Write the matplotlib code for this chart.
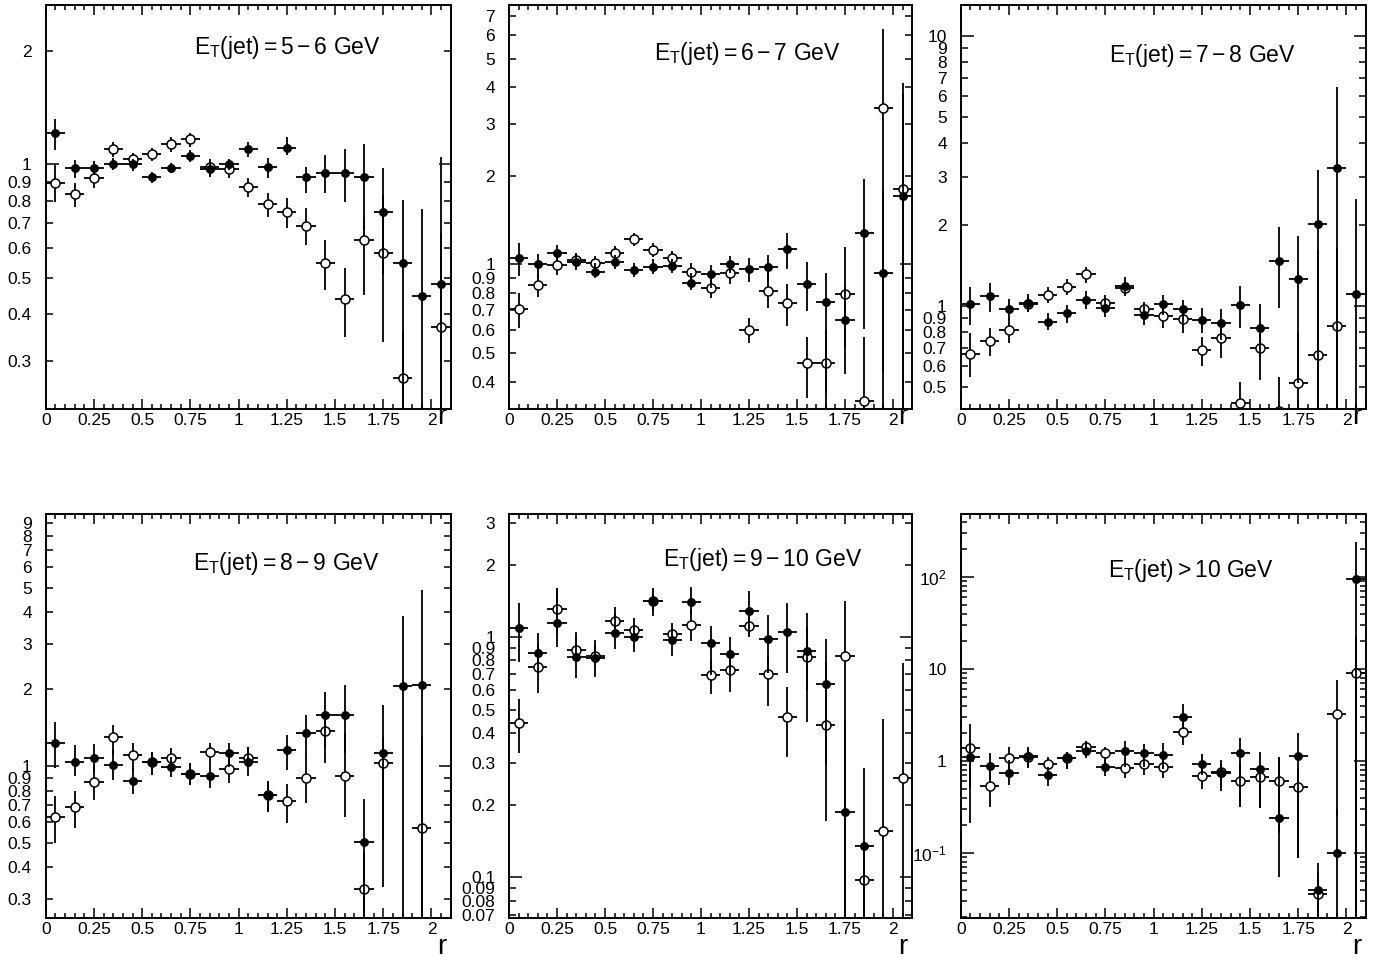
import numpy as np
import matplotlib
matplotlib.use('Agg')
import matplotlib.pyplot as plt
from matplotlib.ticker import FixedLocator, FuncFormatter, MultipleLocator, NullFormatter

plt.rcParams['font.family'] = ['Liberation Sans', 'DejaVu Sans']
plt.rcParams['mathtext.fontset'] = 'custom'
plt.rcParams['mathtext.rm'] = 'Liberation Sans'
plt.rcParams['mathtext.it'] = 'Liberation Sans:italic'

nan = np.nan

# ---- bin centres in r
r = [0.05, 0.15, 0.25, 0.35, 0.45, 0.55, 0.65, 0.75, 0.85, 0.95, 1.05,
     1.15, 1.25, 1.35, 1.45, 1.55, 1.65, 1.75, 1.85, 1.95, 2.05]
r_halfwidth = 0.05

titles = ['5-6', '6-7', '7-8', '8-9', '9-10', '>10']

# ---- Et 5-6 GeV  (f = filled points, o = open points; lo/hi = error bar ends)
f1_val = [1.21, 0.98, 0.98, 1.0, 1.0, 0.927, 0.976, 1.054, 0.97, 1.0, 1.096, 0.986, 1.107, 0.927, 0.95, 0.95, 0.927, 0.746, 0.546, 0.448, 0.48]
f1_hi = [1.32, 1.027, 1.02, 1.037, 1.033, 0.956, 1.006, 1.091, 1.006, 1.031, 1.148, 1.037, 1.184, 0.986, 1.059, 1.10, 1.132, 0.976, 0.804, 0.759, 1.048]
f1_lo = [1.091, 0.918, 0.937, 0.966, 0.962, 0.89, 0.946, 1.012, 0.927, 0.966, 1.048, 0.918, 1.059, 0.837, 0.837, 0.796, 0.669, 0.513, 0.01, 0.01, 0.01]
o1_val = [0.894, 0.832, 0.918, 1.096, 1.033, 1.065, 1.132, 1.165, 0.986, 0.97, 0.869, 0.784, 0.746, 0.687, 0.546, 0.439, 0.629, 0.583, 0.271, nan, 0.37]
o1_hi = [0.996, 0.894, 0.966, 1.148, 1.069, 1.107, 1.184, 1.213, 1.031, 1.016, 0.918, 0.841, 0.812, 0.764, 0.629, 0.529, 0.726, 0.829, 0.36, nan, 0.656]
o1_lo = [0.796, 0.772, 0.867, 1.048, 0.996, 1.023, 1.08, 1.109, 0.931, 0.918, 0.817, 0.726, 0.679, 0.61, 0.464, 0.347, 0.45, 0.338, 0.01, nan, 0.01]

# ---- Et 6-7 GeV
f2_val = [1.048, 1.0, 1.095, 1.016, 0.944, 1.021, 0.957, 0.982, 0.987, 0.866, 0.927, 1.0, 0.964, 0.977, 1.124, 0.855, 0.745, 0.65, 1.277, 0.936, 1.706]
f2_hi = [1.185, 1.081, 1.163, 1.09, 1.008, 1.076, 1.008, 1.04, 1.04, 0.932, 0.995, 1.067, 1.054, 1.076, 1.28, 1.016, 0.932, 0.839, 1.949, 1.778, 3.78]
f2_lo = [0.913, 0.901, 1.034, 0.957, 0.897, 0.962, 0.908, 0.927, 0.932, 0.818, 0.829, 0.937, 0.873, 0.873, 0.962, 0.696, 0.365, 0.424, 0.606, 0.01, 0.01]
o2_val = [0.705, 0.851, 0.995, 1.034, 1.013, 1.095, 1.216, 1.119, 1.048, 0.944, 0.829, 0.932, 0.598, 0.812, 0.737, 0.461, 0.461, 0.793, 0.344, 3.386, 1.798]
o2_hi = [0.801, 0.92, 1.076, 1.09, 1.067, 1.154, 1.281, 1.184, 1.113, 1.008, 0.896, 1.008, 0.659, 0.944, 0.857, 0.568, 0.598, 1.142, 0.565, 6.3, 4.14]
o2_lo = [0.609, 0.777, 0.92, 0.982, 0.962, 1.04, 1.154, 1.056, 0.982, 0.885, 0.767, 0.857, 0.539, 0.709, 0.617, 0.353, 0.01, 0.525, 0.01, 0.432, 0.01]

# ---- Et 7-8 GeV
f3_val = [1.014, 1.092, 0.972, 1.029, 0.875, 0.939, 1.052, 0.986, 1.189, 0.926, 1.014, 0.972, 0.888, 0.863, 1.009, 0.831, 1.471, 1.259, 2.005, 3.25, 1.108]
f3_hi = [1.179, 1.213, 1.058, 1.107, 0.939, 1.009, 1.139, 1.058, 1.277, 1.0, 1.098, 1.052, 0.98, 0.972, 1.186, 1.017, 1.965, 1.815, 3.18, 6.48, 2.5]
f3_lo = [0.851, 0.953, 0.888, 0.953, 0.815, 0.868, 0.972, 0.913, 1.114, 0.851, 0.926, 0.863, 0.792, 0.749, 0.827, 0.649, 0.98, 0.52, 0.01, 0.01, 0.01]
o3_val = [0.663, 0.742, 0.815, 1.014, 1.098, 1.179, 1.313, 1.029, 1.162, 0.972, 0.918, 0.893, 0.688, 0.759, 0.436, 0.701, 0.41, 0.52, 0.659, 0.846, nan]
o3_hi = [0.792, 0.827, 0.9, 1.077, 1.179, 1.255, 1.398, 1.098, 1.23, 1.038, 1.009, 0.972, 0.77, 0.863, 0.525, 0.863, 0.548, 0.792, 1.61, 1.635, nan]
o3_lo = [0.548, 0.653, 0.727, 0.953, 1.023, 1.098, 1.22, 0.961, 1.089, 0.913, 0.827, 0.797, 0.6, 0.641, 0.01, 0.532, 0.01, 0.01, 0.01, 0.01, nan]

# ---- Et 8-9 GeV
f4_val = [1.235, 1.04, 1.072, 1.009, 0.873, 1.034, 0.994, 0.93, 0.914, 1.121, 1.04, 0.769, 1.149, 1.344, 1.576, 1.576, 0.504, 1.122, 2.048, 2.074, nan]
f4_hi = [1.48, 1.209, 1.22, 1.156, 0.979, 1.138, 1.088, 1.024, 1.009, 1.235, 1.191, 0.873, 1.323, 1.586, 1.957, 2.067, 0.74, 1.725, 3.86, 4.91, nan]
f4_lo = [0.979, 0.914, 0.95, 0.881, 0.776, 0.922, 0.903, 0.842, 0.817, 0.994, 0.914, 0.658, 0.964, 1.094, 1.19, 1.122, 0.01, 0.512, 0.01, 0.01, nan]
o4_val = [0.629, 0.688, 0.868, 1.296, 1.104, 1.034, 1.078, 0.93, 1.131, 0.97, 1.072, 0.769, 0.725, 0.895, 1.364, 0.916, 0.328, 1.025, nan, 0.573, nan]
o4_hi = [0.765, 0.798, 1.0, 1.449, 1.227, 1.138, 1.173, 1.024, 1.235, 1.088, 1.191, 0.873, 0.847, 1.104, 1.61, 1.344, 0.454, 1.303, nan, 1.303, nan]
o4_lo = [0.497, 0.573, 0.735, 1.104, 0.964, 0.922, 0.979, 0.842, 1.009, 0.86, 0.994, 0.658, 0.599, 0.714, 1.025, 0.629, 0.01, 0.336, nan, 0.01, nan]

# ---- Et 9-10 GeV
f5_val = [1.09, 0.863, 1.151, 0.831, 0.818, 1.046, 1.006, 1.421, 0.975, 1.407, 0.95, 0.85, 1.287, 0.981, 1.049, 0.877, 0.638, 0.188, 0.135, nan, nan]
f5_hi = [1.385, 1.039, 1.599, 1.049, 0.969, 1.247, 1.108, 1.599, 1.073, 1.614, 1.115, 1.006, 1.563, 1.239, 1.394, 1.259, 0.981, 0.45, 0.285, nan, nan]
f5_lo = [0.792, 0.708, 0.906, 0.675, 0.686, 0.891, 0.866, 1.227, 0.836, 1.238, 0.697, 0.686, 1.029, 0.708, 0.708, 0.6, 0.294, 0.001, 0.001, nan, nan]
o5_val = [0.441, 0.755, 1.312, 0.886, 0.836, 1.17, 1.073, 1.421, 1.029, 1.126, 0.693, 0.731, 1.108, 0.702, 0.467, 0.83, 0.432, 0.836, 0.0977, 0.156, 0.26]
o5_hi = [0.554, 0.938, 1.599, 0.99, 0.915, 1.333, 1.2, 1.52, 1.144, 1.299, 0.805, 0.844, 1.239, 0.844, 0.619, 1.1, 0.792, 1.42, 0.135, 0.457, 0.779]
o5_lo = [0.329, 0.585, 1.039, 0.792, 0.767, 1.039, 0.975, 1.3, 0.938, 0.965, 0.579, 0.594, 1.0, 0.518, 0.317, 0.445, 0.171, 0.001, 0.001, 0.001, 0.001]

# ---- Et > 10 GeV
f6_val = [1.115, 0.89, 0.747, 1.133, 0.705, 1.069, 1.295, 0.853, 1.295, 1.211, 1.162, 3.03, 0.928, 0.747, 1.211, 0.819, 0.238, 1.133, 0.0396, 0.1008, 94.4]
f6_hi = [1.69, 1.211, 1.025, 1.408, 0.868, 1.263, 1.663, 1.115, 1.663, 1.517, 1.582, 4.16, 1.191, 1.025, 1.763, 1.263, 1.115, 1.998, 0.0772, 0.3, 242]
f6_lo = [0.526, 0.622, 0.548, 0.832, 0.539, 0.812, 1.069, 0.687, 0.868, 0.868, 0.812, 2.21, 0.705, 0.476, 0.319, 0.306, 0.0552, 0.0875, 0.001, 0.001, 0.001]
o6_val = [1.373, 0.535, 1.069, 1.096, 0.92, 1.069, 1.408, 1.211, 0.832, 0.928, 0.868, 2.084, 0.687, 0.766, 0.606, 0.676, 0.606, 0.526, 0.0356, 3.24, 8.98]
o6_hi = [2.52, 0.868, 1.408, 1.339, 1.096, 1.263, 1.663, 1.431, 1.025, 1.133, 1.096, 2.79, 0.92, 0.943, 0.943, 0.868, 1.115, 0.832, 0.06, 7.6, 22.4]
o6_lo = [0.21, 0.319, 0.734, 0.868, 0.747, 0.812, 1.162, 0.943, 0.648, 0.705, 0.648, 1.493, 0.492, 0.526, 0.319, 0.306, 0.164, 0.0875, 0.001, 0.25, 0.001]

filled = [(f1_val, f1_lo, f1_hi), (f2_val, f2_lo, f2_hi), (f3_val, f3_lo, f3_hi),
          (f4_val, f4_lo, f4_hi), (f5_val, f5_lo, f5_hi), (f6_val, f6_lo, f6_hi)]
opened = [(o1_val, o1_lo, o1_hi), (o2_val, o2_lo, o2_hi), (o3_val, o3_lo, o3_hi),
          (o4_val, o4_lo, o4_hi), (o5_val, o5_lo, o5_hi), (o6_val, o6_lo, o6_hi)]

# y ranges and labelled y ticks of each panel
ylims = [(0.224, 2.65), (0.323, 7.6), (0.416, 13.0), (0.254, 9.7), (0.068, 3.25), (0.0198, 480)]
ymajor = [[1], [1], [1, 10], [1], [0.1, 1], [0.1, 1, 10, 100]]
yminor = [[0.3, 0.4, 0.5, 0.6, 0.7, 0.8, 0.9, 2],
          [0.4, 0.5, 0.6, 0.7, 0.8, 0.9, 2, 3, 4, 5, 6, 7],
          [0.5, 0.6, 0.7, 0.8, 0.9, 2, 3, 4, 5, 6, 7, 8, 9],
          [0.3, 0.4, 0.5, 0.6, 0.7, 0.8, 0.9, 2, 3, 4, 5, 6, 7, 8, 9],
          [0.07, 0.08, 0.09, 0.2, 0.3, 0.4, 0.5, 0.6, 0.7, 0.8, 0.9, 2, 3],
          [k * 10.0 ** e for e in (-2, -1, 0, 1, 2) for k in range(2, 10)]]
title_pos = [(0.366, 0.894), (0.36, 0.881), (0.366, 0.876),
             (0.364, 0.879), (0.381, 0.887), (0.364, 0.86)]

# axes boxes in figure fraction
lefts = [0.0332, 0.3694, 0.6972]
widths = [0.2939, 0.2925, 0.2939]
bottoms = [0.5744, 0.0451]
heights = [0.4204, 0.4198]


def plain(v, pos):
    return '%g' % v


def powers(v, pos):
    e = int(round(np.log10(v)))
    if e == 0:
        return '1'
    if e == 1:
        return '10'
    return r'$\mathregular{10^{%d}}$' % e


def draw(ax, vals, lo, hi, **kw):
    v = np.array(vals, dtype=float)
    ok = ~np.isnan(v)
    x = np.array(r)[ok]
    v = v[ok]
    err = [v - np.array(lo, dtype=float)[ok], np.array(hi, dtype=float)[ok] - v]
    ax.errorbar(x, v, yerr=err, xerr=r_halfwidth, fmt='o', color='black',
                elinewidth=1.3, capsize=0, **kw)


fig = plt.figure(figsize=(13.78, 9.61), dpi=100)

for i in range(6):
    row, col = divmod(i, 3)
    ax = fig.add_axes([lefts[col], bottoms[row], widths[col], heights[row]])
    ax.set_yscale('log')

    ov, ol, oh = opened[i]
    fv, fl, fh = filled[i]
    draw(ax, ov, ol, oh, ms=6.5, mfc='white', mec='black', mew=1.1, zorder=2)
    draw(ax, fv, fl, fh, ms=5.4, mfc='black', mec='black', zorder=3)

    ax.set_xlim(0, 2.1)
    ax.set_ylim(*ylims[i])
    ax.xaxis.set_major_locator(MultipleLocator(0.25))
    ax.xaxis.set_minor_locator(MultipleLocator(0.05))
    ax.xaxis.set_major_formatter(FuncFormatter(plain))

    ax.yaxis.set_major_locator(FixedLocator(ymajor[i]))
    ax.yaxis.set_minor_locator(FixedLocator(yminor[i]))
    if i == 5:
        ax.yaxis.set_major_formatter(FuncFormatter(powers))
        ax.yaxis.set_minor_formatter(NullFormatter())
    else:
        ax.yaxis.set_major_formatter(FuncFormatter(plain))
        ax.yaxis.set_minor_formatter(FuncFormatter(plain))

    ax.tick_params(which='both', direction='in', top=True, right=True,
                   width=1.1, labelsize=12.5)
    ax.tick_params(axis='x', which='major', length=7, pad=3)
    ax.tick_params(axis='x', which='minor', length=3.5)
    ax.tick_params(axis='y', which='major', length=9, pad=10)
    ax.tick_params(axis='y', which='minor', length=5, pad=10)
    if i == 5:
        ax.tick_params(axis='y', which='minor', length=4)
    for s in ax.spines.values():
        s.set_linewidth(1.4)

    # title inside the panel
    if titles[i].startswith('>'):
        lab = r'$\mathregular{E_T(jet)>10\ GeV}$'
    else:
        a, b = titles[i].split('-')
        lab = r'$\mathregular{E_T(jet)=%s-%s\ GeV}$' % (a, b)
    ax.text(title_pos[i][0], title_pos[i][1], lab, transform=ax.transAxes,
            fontsize=16.5, ha='left', va='center')

    # axis name "r" at the lower right
    ax.text(0.966, -0.037 if row == 0 else -0.09, 'r', transform=ax.transAxes,
            fontsize=20, ha='left', va='baseline')

fig.savefig('out.png', dpi=100)
